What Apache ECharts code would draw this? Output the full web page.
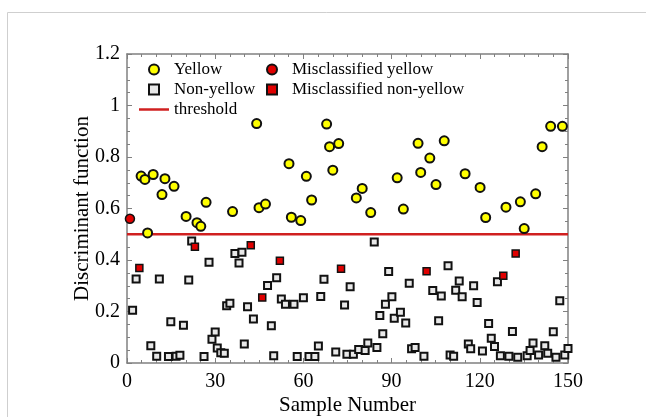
<!DOCTYPE html>
<html>
<head>
<meta charset="utf-8">
<script src="https://cdn.jsdelivr.net/npm/echarts@6/dist/echarts.min.js"></script>
<style>
  html, body { margin: 0; padding: 0; background: #fff; }
  #chart { width: 646px; height: 417px; }
</style>
</head>
<body>
<div id="chart"></div>
<script>
// sample number, discriminant value
const yellow = [
  [4.8, 0.726], [6.1, 0.713], [7.0, 0.505], [8.9, 0.732], [11.9, 0.654], [12.9, 0.716],
  [16.0, 0.686], [20.1, 0.569], [23.8, 0.545], [25.1, 0.531], [26.9, 0.624], [35.9, 0.588],
  [44.1, 0.93], [44.9, 0.603], [47.1, 0.617], [55.1, 0.774], [55.9, 0.566], [59.1, 0.553],
  [61.0, 0.725], [62.8, 0.633], [67.9, 0.928], [68.9, 0.84], [70.0, 0.749], [72.0, 0.852],
  [78.0, 0.641], [80.0, 0.678], [82.9, 0.584], [91.9, 0.719], [94.0, 0.598], [99.0, 0.853],
  [99.9, 0.74], [103.0, 0.796], [105.1, 0.693], [107.9, 0.863], [115.0, 0.735], [120.1, 0.682],
  [122.0, 0.565], [128.9, 0.605], [133.8, 0.626], [135.1, 0.522], [139.0, 0.657], [141.2, 0.84],
  [144.1, 0.919], [148.1, 0.919]
]
const nonYellow = [
  [1.9, 0.205], [3.1, 0.326], [8.1, 0.067], [10.1, 0.026], [11.0, 0.326], [14.1, 0.025],
  [14.9, 0.16], [16.7, 0.026], [18.0, 0.03], [19.2, 0.147], [21.0, 0.322], [22.0, 0.474],
  [26.2, 0.025], [27.9, 0.391], [28.9, 0.092], [30.0, 0.12], [30.7, 0.058], [31.9, 0.04],
  [33.1, 0.038], [33.9, 0.222], [35.0, 0.232], [36.7, 0.425], [38.1, 0.388], [39.1, 0.43],
  [39.9, 0.074], [41.0, 0.218], [43.0, 0.171], [47.8, 0.301], [49.1, 0.145], [49.9, 0.028],
  [50.9, 0.331], [52.5, 0.249], [53.9, 0.228], [56.8, 0.228], [57.9, 0.025], [60.0, 0.253],
  [61.9, 0.025], [63.9, 0.025], [65.1, 0.066], [65.9, 0.258], [67.0, 0.325], [71.0, 0.043],
  [74.0, 0.225], [74.8, 0.034], [75.9, 0.296], [77.0, 0.034], [78.8, 0.052], [81.0, 0.049],
  [81.9, 0.078], [84.1, 0.47], [85.0, 0.06], [86.0, 0.184], [87.0, 0.114], [87.9, 0.228],
  [89.0, 0.355], [90.1, 0.257], [90.9, 0.174], [93.0, 0.197], [94.8, 0.155], [96.0, 0.31],
  [96.8, 0.055], [98.0, 0.06], [101.0, 0.026], [104.0, 0.282], [106.0, 0.164], [106.9, 0.26],
  [109.2, 0.378], [109.9, 0.031], [111.1, 0.026], [111.8, 0.283], [113.0, 0.318], [114.0, 0.257],
  [116.1, 0.074], [116.9, 0.055], [117.9, 0.3], [119.1, 0.235], [120.9, 0.047], [123.0, 0.153],
  [123.9, 0.096], [125.0, 0.064], [126.0, 0.316], [127.0, 0.028], [129.9, 0.026], [131.1, 0.122],
  [132.9, 0.022], [136.1, 0.028], [137.1, 0.049], [138.1, 0.078], [140.0, 0.031], [142.1, 0.067],
  [143.1, 0.038], [145.0, 0.121], [145.9, 0.022], [147.2, 0.242], [148.9, 0.031], [150.0, 0.056]
]
const misYellow = [[1.0, 0.56]]
const misNonYellow = [
  [4.2, 0.369], [23.1, 0.451], [42.1, 0.457], [46.0, 0.254], [52.0, 0.397],
  [72.8, 0.366], [101.9, 0.356], [128.0, 0.339], [132.2, 0.425]
]
const threshold = [[0, 0.5], [150, 0.5]]
const xTicks = [0, 30, 60, 90, 120, 150]
const yTicks = [0, 0.2, 0.4, 0.6, 0.8, 1, 1.2]

const serif = 'Liberation Serif'
const axisGrey = '#808080'
const squareIcon = 'path://M0,0L10,0L10,10L0,10Z'
const lineIcon = 'path://M0,0L30,0L30,2.5L0,2.5Z'

const chart = echarts.init(document.getElementById('chart'))

function frameAxis(extra) {
  return Object.assign({
    axisLine: { show: true, onZero: false, lineStyle: { color: axisGrey, width: 1.5 } },
    axisTick: { show: true, inside: true, length: 5, lineStyle: { color: axisGrey } },
    minorTick: { show: true, length: 3, lineStyle: { color: axisGrey } },
    splitLine: { show: false },
    axisLabel: { show: false }
  }, extra)
}

const legendText = { fontFamily: serif, fontSize: 17, color: '#000', lineHeight: 16 }

chart.setOption({
  animation: false,
  grid: { left: 127, right: 78, top: 54, bottom: 54, outerBoundsMode: 'none', containLabel: false },
  graphic: [{
    type: 'polyline',
    shape: { points: [[7.5, 417], [7.5, 12.5], [646, 12.5]] },
    style: { stroke: '#cfcfcf', lineWidth: 1, fill: null }
  }],
  legend: [{
    orient: 'vertical', left: 139, top: 61, padding: 0,
    itemWidth: 30, itemHeight: 10, itemGap: 3,
    textStyle: legendText,
    data: [
      { name: 'Yellow' },
      { name: 'Non-yellow', icon: squareIcon },
      { name: 'threshold', icon: lineIcon }
    ]
  }, {
    orient: 'vertical', left: 266, top: 61, padding: 0,
    itemWidth: 30, itemHeight: 10, itemGap: 3,
    textStyle: legendText,
    data: [
      { name: 'Misclassified yellow' },
      { name: 'Misclassified non-yellow', icon: squareIcon }
    ]
  }],
  xAxis: [frameAxis({
    type: 'value', min: 0, max: 150, interval: 30, position: 'bottom',
    minorTick: { show: true, splitNumber: 6, length: 3, lineStyle: { color: axisGrey } },
    axisLabel: {
      show: true, margin: 9, fontFamily: serif, fontSize: 20, color: '#000',
      customValues: xTicks
    },
    name: 'Sample Number', nameLocation: 'middle', nameGap: 32, nameMoveOverlap: false,
    nameTextStyle: { fontFamily: serif, fontSize: 21, color: '#000' }
  }), frameAxis({
    type: 'value', min: 0, max: 150, interval: 30, position: 'top',
    minorTick: { show: true, splitNumber: 6, length: 3, lineStyle: { color: axisGrey } }
  })],
  yAxis: [frameAxis({
    type: 'value', min: 0, max: 1.2, interval: 0.2, position: 'left',
    minorTick: { show: true, splitNumber: 4, length: 3, lineStyle: { color: axisGrey } },
    axisLabel: {
      show: true, margin: 7, fontFamily: serif, fontSize: 20, color: '#000',
      customValues: yTicks,
      formatter: v => String(Math.round(v * 10) / 10)
    },
    name: 'Discriminant function', nameLocation: 'middle', nameGap: 34, nameMoveOverlap: false,
    nameTextStyle: { fontFamily: serif, fontSize: 21, color: '#000' }
  }), frameAxis({
    type: 'value', min: 0, max: 1.2, interval: 0.2, position: 'right',
    minorTick: { show: true, splitNumber: 4, length: 3, lineStyle: { color: axisGrey } }
  })],
  series: [{
    name: 'threshold', type: 'line', data: threshold,
    symbol: 'none', lineStyle: { color: '#d02020', width: 2.5 }, itemStyle: { color: '#d02020' },
    z: 1
  }, {
    name: 'Non-yellow', type: 'scatter', data: nonYellow,
    symbol: 'rect', symbolSize: 7,
    itemStyle: { color: '#e8e8e8', borderColor: '#111', borderWidth: 2, opacity: 1 },
    z: 2
  }, {
    name: 'Misclassified non-yellow', type: 'scatter', data: misNonYellow,
    symbol: 'rect', symbolSize: 7,
    itemStyle: { color: '#e00000', borderColor: '#111', borderWidth: 1.5, opacity: 1 },
    z: 3
  }, {
    name: 'Yellow', type: 'scatter', data: yellow,
    symbol: 'circle', symbolSize: 9,
    itemStyle: { color: '#ffff00', borderColor: '#111', borderWidth: 2, opacity: 1 },
    z: 4
  }, {
    name: 'Misclassified yellow', type: 'scatter', data: misYellow,
    symbol: 'circle', symbolSize: 9,
    itemStyle: { color: '#e00000', borderColor: '#111', borderWidth: 1.5, opacity: 1 },
    z: 4
  }]
})
</script>
</body>
</html>
